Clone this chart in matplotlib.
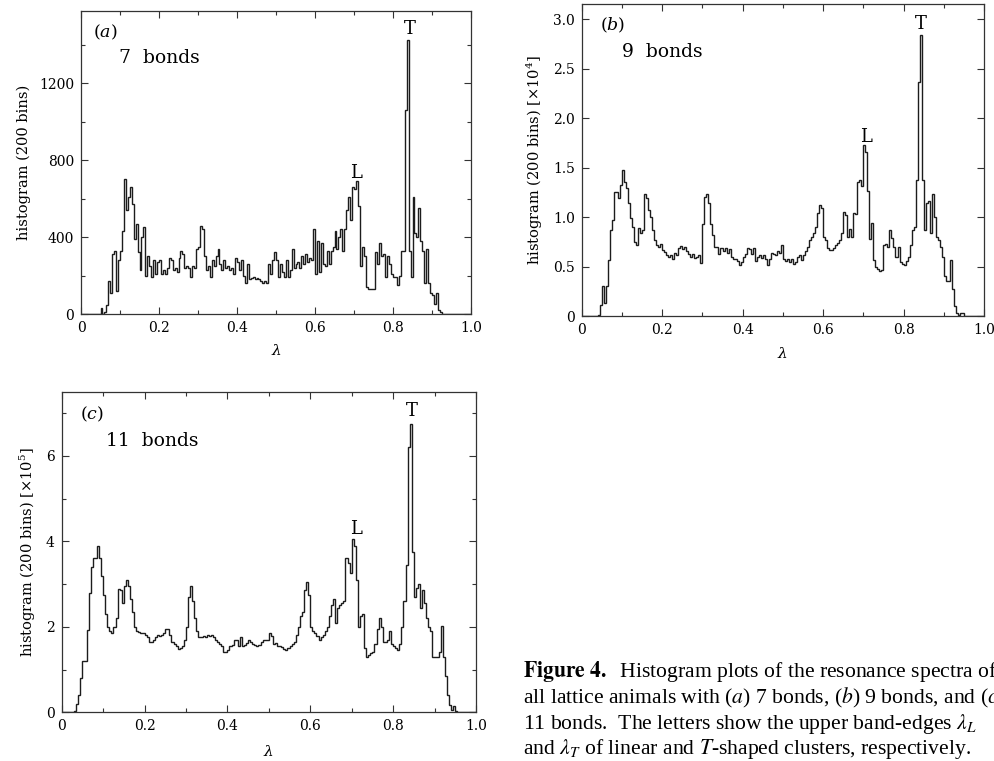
import numpy as np
import matplotlib
matplotlib.use("Agg")
import matplotlib.pyplot as plt
from matplotlib.ticker import MultipleLocator, FuncFormatter

# ---------------- data: 200-bin histograms on lambda in [0, 1] ----------------
n_bins = 200

# panel (a): 7 bonds (counts); rows = 20 bins each (0.0-0.1, 0.1-0.2, ...)
hist_a = [
    0, 0, 0, 0, 0, 0, 0, 0, 0, 0, 30, 0, 10, 45, 170, 110, 310, 325, 120, 280,
    330, 430, 700, 540, 610, 660, 570, 390, 470, 320, 230, 400, 450, 200, 300, 250, 190, 280, 210, 270,
    280, 210, 230, 210, 240, 290, 280, 230, 240, 220, 290, 330, 310, 240, 250, 240, 190, 250, 240, 340,
    350, 460, 440, 300, 230, 250, 190, 280, 250, 300, 340, 260, 230, 280, 240, 250, 230, 240, 210, 290,
    270, 230, 280, 200, 160, 260, 180, 185, 190, 180, 185, 180, 170, 160, 170, 160, 260, 210, 280, 320,
    280, 190, 260, 220, 190, 280, 190, 230, 340, 240, 260, 270, 240, 300, 260, 310, 270, 290, 280, 440,
    210, 380, 220, 370, 260, 250, 330, 260, 330, 350, 430, 340, 400, 440, 330, 440, 540, 610, 490, 660,
    650, 690, 560, 250, 350, 300, 140, 130, 130, 130, 130, 320, 260, 370, 300, 310, 190, 300, 260, 210,
    190, 190, 150, 200, 330, 330, 1060, 1425, 330, 190, 610, 420, 400, 550, 380, 330, 160, 340, 160, 110,
    100, 50, 110, 20, 10, 0, 0, 0, 0, 0, 0, 0, 0, 0, 0, 0, 0, 0, 0, 0,
]

# panel (b): 9 bonds (x 10^4)
hist_b = [
    0, 0, 0, 0, 0, 0, 0, 0, 0.01, 0.11, 0.30, 0.13, 0.30, 0.57, 0.87, 0.97, 1.25, 1.25, 1.19, 1.32,
    1.48, 1.36, 1.29, 1.14, 0.99, 0.90, 0.75, 0.72, 0.89, 0.84, 0.87, 1.23, 1.19, 1.07, 1.00, 0.87, 0.77, 0.72, 0.70, 0.73,
    0.67, 0.65, 0.62, 0.60, 0.62, 0.58, 0.64, 0.62, 0.69, 0.71, 0.68, 0.70, 0.66, 0.63, 0.60, 0.63, 0.59, 0.60, 0.62, 0.54,
    0.93, 1.20, 1.23, 1.14, 0.93, 0.82, 0.70, 0.70, 0.63, 0.69, 0.66, 0.69, 0.64, 0.68, 0.60, 0.58, 0.58, 0.56, 0.52, 0.55,
    0.60, 0.63, 0.69, 0.68, 0.63, 0.69, 0.56, 0.60, 0.62, 0.59, 0.62, 0.58, 0.52, 0.58, 0.64, 0.63, 0.62, 0.66, 0.64, 0.72,
    0.58, 0.56, 0.58, 0.55, 0.58, 0.53, 0.55, 0.60, 0.62, 0.57, 0.62, 0.66, 0.70, 0.77, 0.80, 0.84, 0.90, 1.04, 1.12, 1.09,
    0.80, 0.77, 0.69, 0.67, 0.67, 0.69, 0.72, 0.74, 0.77, 0.84, 1.05, 1.02, 0.80, 0.88, 0.80, 1.04, 1.03, 1.36, 1.38, 1.31,
    1.73, 1.66, 1.26, 0.78, 0.94, 0.57, 0.50, 0.48, 0.46, 0.47, 0.72, 0.73, 0.70, 0.87, 0.79, 0.70, 0.60, 0.70, 0.55, 0.53,
    0.52, 0.56, 0.60, 0.72, 0.87, 0.90, 1.38, 2.37, 2.84, 1.38, 0.87, 1.14, 1.16, 0.84, 1.23, 1.00, 0.80, 0.77, 0.70, 0.60,
    0.40, 0.35, 0.35, 0.57, 0.27, 0.10, 0.03, 0.01, 0.03, 0.03, 0, 0, 0, 0, 0, 0, 0, 0, 0, 0,
]

# panel (c): 11 bonds (x 10^5)
hist_c = [
    0, 0, 0, 0, 0, 0, 0.03, 0.20, 0.40, 0.80, 1.20, 1.20, 1.93, 2.78, 3.40, 3.62, 3.62, 3.90, 3.62, 3.20,
    2.75, 2.30, 2.00, 1.90, 1.85, 2.00, 2.20, 2.88, 2.85, 2.55, 2.95, 3.10, 2.95, 2.65, 2.35, 2.00, 1.90, 1.88, 1.85, 1.85,
    1.80, 1.75, 1.65, 1.65, 1.70, 1.75, 1.82, 1.78, 1.80, 1.85, 1.95, 1.95, 1.80, 1.65, 1.60, 1.55, 1.48, 1.50, 1.55, 1.70,
    2.00, 2.70, 2.95, 2.60, 2.20, 1.90, 1.75, 1.75, 1.78, 1.75, 1.80, 1.78, 1.80, 1.75, 1.70, 1.65, 1.60, 1.55, 1.40, 1.40,
    1.45, 1.55, 1.58, 1.70, 1.70, 1.55, 1.75, 1.55, 1.58, 1.62, 1.68, 1.65, 1.60, 1.58, 1.55, 1.58, 1.65, 1.70, 1.70, 1.68,
    1.85, 1.78, 1.60, 1.62, 1.55, 1.55, 1.52, 1.48, 1.45, 1.50, 1.55, 1.60, 1.65, 1.80, 2.00, 2.25, 2.35, 2.85, 3.05, 2.75,
    2.00, 1.90, 1.85, 1.78, 1.70, 1.75, 1.82, 1.90, 2.00, 2.25, 2.50, 2.65, 2.10, 2.45, 2.50, 2.55, 2.60, 3.60, 3.50, 3.25,
    4.05, 3.90, 3.10, 2.00, 2.25, 2.30, 1.50, 1.30, 1.35, 1.38, 1.40, 1.60, 1.95, 2.20, 2.00, 1.65, 1.65, 1.70, 1.90, 1.60,
    1.55, 1.50, 1.45, 1.60, 2.00, 2.60, 3.45, 6.20, 6.75, 3.75, 2.70, 2.90, 3.00, 2.45, 2.85, 2.55, 2.20, 2.00, 1.90, 1.30,
    1.30, 1.30, 1.40, 2.02, 1.30, 0.85, 0.40, 0.18, 0.05, 0.15, 0.02, 0, 0, 0, 0, 0, 0, 0, 0, 0,
]

panel_tags = ["a", "b", "c"]
bond_labels = ["7  bonds", "9  bonds", "11  bonds"]
ylabels = ["histogram (200 bins)",
           r"histogram (200 bins) [$\times$10$^4$]",
           r"histogram (200 bins) [$\times$10$^5$]"]
# peak letters: (lambda, height) per panel
L_pos = [(0.705, 735), (0.706, 1.81), (0.71, 4.28)]
T_pos = [(0.842, 1480), (0.843, 2.95), (0.845, 7.04)]

# ---------------- figure ----------------
W, H = 994, 761
fig = plt.figure(figsize=(W / 100, H / 100), dpi=100)
fig.patch.set_facecolor("white")

def rect(l, r, t, b):
    return [l / W, 1 - b / H, (r - l) / W, (b - t) / H]

ax_a = fig.add_axes(rect(81, 471, 11, 314))
ax_b = fig.add_axes(rect(581.7, 984, 4, 316))
ax_c = fig.add_axes(rect(61.7, 476, 391.7, 712.3))
axes = [ax_a, ax_b, ax_c]

edges = np.linspace(0.0, 1.0, n_bins + 1)
hists = [hist_a, hist_b, hist_c]
ylims = [1575, 3.155, 7.5]
ymajor = [400, 0.5, 2]
yminor = [200, 0.5, 1]
ylabel_x = [-0.128, -0.091, -0.056]
xlabel_y = [-0.096, -0.096, -0.099]
tag_x = [0.03, 0.045, 0.044]
bond_x = [0.097, 0.1, 0.107]

serif = "DejaVu Serif"

def xfmt(v, pos):
    return "0" if abs(v) < 1e-9 else f"{v:.1f}"

yfmts = [
    FuncFormatter(lambda v, p: f"{v:.0f}"),
    FuncFormatter(lambda v, p: "0" if abs(v) < 1e-9 else f"{v:.1f}"),
    FuncFormatter(lambda v, p: f"{v:.0f}"),
]

for i, ax in enumerate(axes):
    ax.stairs(hists[i], edges, color="#1c1c1c", linewidth=1.0)
    ax.set_xlim(0, 1.0)
    ax.set_ylim(0, ylims[i])
    ax.xaxis.set_major_locator(MultipleLocator(0.2))
    ax.xaxis.set_minor_locator(MultipleLocator(0.1))
    ax.yaxis.set_major_locator(MultipleLocator(ymajor[i]))
    ax.yaxis.set_minor_locator(MultipleLocator(yminor[i]))
    ax.xaxis.set_major_formatter(FuncFormatter(xfmt))
    ax.yaxis.set_major_formatter(yfmts[i])
    ax.tick_params(which="both", direction="in", top=True, right=True,
                   width=0.8, color="#333333")
    ax.tick_params(which="major", length=5, labelsize=10, pad=5)
    ax.tick_params(which="minor", length=3)
    for lab in ax.get_xticklabels() + ax.get_yticklabels():
        lab.set_fontfamily(serif)
    for sp in ax.spines.values():
        sp.set_linewidth(0.9)
        sp.set_color("#333333")
    ax.set_xlabel(r"$\lambda$", fontsize=11, math_fontfamily="dejavuserif")
    ax.xaxis.set_label_coords(0.5, xlabel_y[i])
    ax.set_ylabel(ylabels[i], fontsize=10.5, fontfamily=serif,
                  math_fontfamily="dejavuserif")
    ax.yaxis.set_label_coords(ylabel_x[i], 0.5)

    ax.text(tag_x[i], 0.93, "($%s$)" % panel_tags[i],
            transform=ax.transAxes, fontsize=12.5, fontfamily=serif,
            math_fontfamily="dejavuserif", va="center", ha="left")
    ax.text(bond_x[i], 0.845, bond_labels[i],
            transform=ax.transAxes, fontsize=13.5, fontfamily=serif,
            va="center", ha="left")
    ax.text(L_pos[i][0], L_pos[i][1], "L", fontsize=13, fontfamily=serif,
            ha="center", va="center")
    ax.text(T_pos[i][0], T_pos[i][1], "T", fontsize=13, fontfamily=serif,
            ha="center", va="center")

# ---------------- caption ----------------
cap_lines = [
    r"$\mathbf{Figure\ 4.}$  Histogram plots of the resonance spectra of",
    r"all lattice animals with ($a$) 7 bonds, ($b$) 9 bonds, and ($c$)",
    r"11 bonds.  The letters show the upper band-edges $\lambda_L$",
    r"and $\lambda_T$ of linear and $T$-shaped clusters, respectively.",
]
cap_y = [671, 698, 724, 749]
for line, yy in zip(cap_lines, cap_y):
    fig.text(523 / W, 1 - yy / H, line, fontsize=15.6, fontfamily="Liberation Serif",
             math_fontfamily="stix", va="center", ha="left")

fig.savefig("out.png", dpi=100)
